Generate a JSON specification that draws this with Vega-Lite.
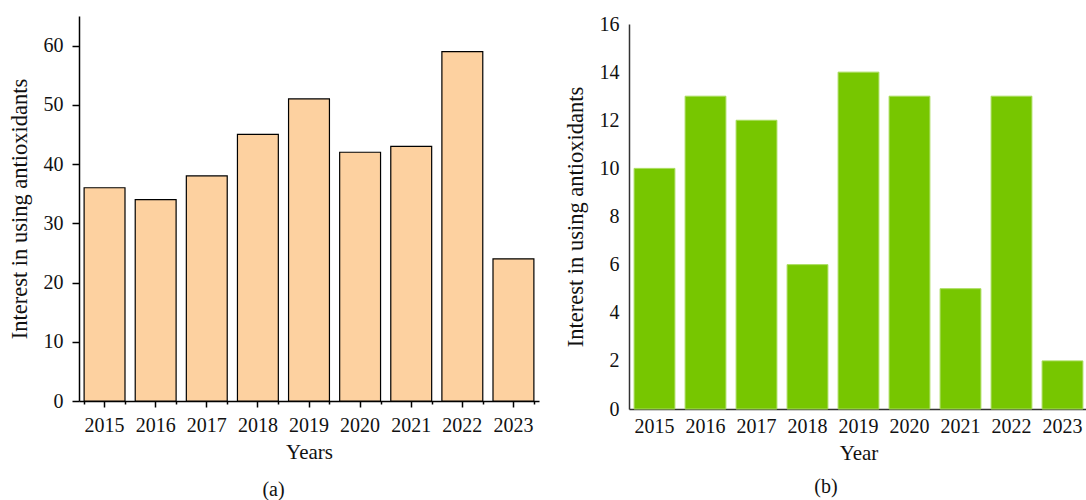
{
  "$schema": "https://vega.github.io/schema/vega-lite/v6.json",
  "padding": {"left": 8, "top": 14, "right": 0, "bottom": 0},
  "spacing": 25,
  "config": {
    "view": {"stroke": null},
    "font": "Liberation Serif",
    "axis": {"labelFont": "Liberation Serif", "titleFont": "Liberation Serif", "labelFontSize": 20, "titleFontSize": 21, "labelColor": "#111", "titleColor": "#111", "titleFontWeight": "normal", "grid": false},
    "title": {"font": "Liberation Serif", "fontSize": 20, "fontWeight": "normal", "orient": "bottom", "anchor": "middle", "frame": "bounds", "color": "#111"}
  },
  "hconcat": [
    {
      "width": 460,
      "height": 385,
      "title": {"text": "(a)", "offset": 18},
      "data": {"values": [
        {"year": "2015", "value": 36}, {"year": "2016", "value": 34}, {"year": "2017", "value": 38},
        {"year": "2018", "value": 45}, {"year": "2019", "value": 51}, {"year": "2020", "value": 42},
        {"year": "2021", "value": 43}, {"year": "2022", "value": 59}, {"year": "2023", "value": 24}
      ]},
      "layer": [
        {
          "mark": {"type": "bar", "fill": "#FDD1A0", "stroke": "#000", "strokeWidth": 1.2},
          "encoding": {
            "x": {"field": "year", "type": "ordinal", "scale": {"paddingInner": 0.2, "paddingOuter": 0.1},
              "axis": {"title": "Years", "labelAngle": 0, "tickSize": 6, "tickColor": "#000", "tickWidth": 1.5, "domainColor": "#000", "domainWidth": 1.5, "labelPadding": 8, "titlePadding": 6}},
            "y": {"field": "value", "type": "quantitative", "scale": {"domain": [0, 65], "nice": false},
              "axis": {"title": "Interest in using antioxidants", "titleFontSize": 22.5, "values": [0, 5, 10, 15, 20, 25, 30, 35, 40, 45, 50, 55, 60, 65],
                "labelExpr": "datum.value % 10 === 0 ? datum.label : ''",
                "tickSize": {"condition": {"test": "datum.value % 10 === 0", "value": 7}, "value": 3},
                "tickColor": "#000", "tickWidth": 1.5, "domainColor": "#000", "domainWidth": 1.5, "labelPadding": 9, "titlePadding": 12}}
          }
        },
        {
          "mark": {"type": "bar", "opacity": 0},
          "encoding": {
            "x": {"field": "year", "type": "ordinal",
              "axis": {"orient": "bottom", "labels": false, "title": null, "tickBand": "extent", "tickSize": 3, "tickColor": "#000", "tickWidth": 1.5, "domain": false}},
            "y": {"field": "value", "type": "quantitative"}
          }
        }
      ],
      "resolve": {"axis": {"x": "independent"}}
    },
    {
      "width": 459,
      "height": 393,
      "title": {"text": "(b)", "offset": 14},
      "data": {"values": [
        {"year": "2015", "value": 10}, {"year": "2016", "value": 13}, {"year": "2017", "value": 12},
        {"year": "2018", "value": 6}, {"year": "2019", "value": 14}, {"year": "2020", "value": 13},
        {"year": "2021", "value": 5}, {"year": "2022", "value": 13}, {"year": "2023", "value": 2}
      ]},
      "mark": {"type": "bar", "fill": "#77C600", "stroke": "#A8DC5C", "strokeWidth": 1},
      "encoding": {
        "x": {"field": "year", "type": "ordinal", "scale": {"paddingInner": 0.2, "paddingOuter": 0.1},
          "axis": {"title": "Year", "labelAngle": 0, "ticks": false, "domainColor": "#333", "domainWidth": 1.5, "labelPadding": 7, "titlePadding": 6}},
        "y": {"field": "value", "type": "quantitative", "scale": {"domain": [0, 16], "nice": false, "range": [393, 8]},
          "axis": {"title": "Interest in using antioxidants", "titleFontSize": 22.5, "values": [0, 2, 4, 6, 8, 10, 12, 14, 16], "ticks": false, "domainColor": "#333", "domainWidth": 1.5, "labelPadding": 10, "titlePadding": 12}}
      }
    }
  ]
}
